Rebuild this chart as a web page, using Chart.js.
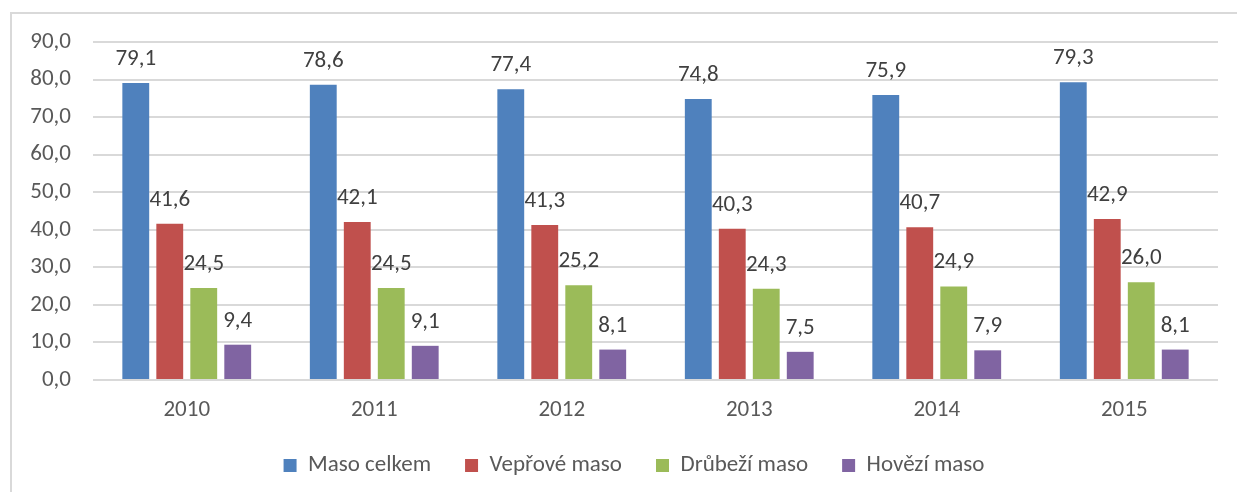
<!DOCTYPE html>
<html>
<head>
<meta charset="utf-8">
<script src="https://cdn.jsdelivr.net/npm/chart.js@4/dist/chart.umd.min.js"></script>
<style>
  html, body { margin: 0; padding: 0; background: #fff; overflow: hidden; }
  #frame { position: absolute; left: 10px; top: 12px; width: 1260px; height: 520px; border: 2px solid #d9d9d9; }
  #wrap { position: absolute; left: 0; top: 0; width: 1237px; height: 492px; }
</style>
</head>
<body>
<div id="frame"></div>
<div id="wrap"><canvas id="meatChart" width="1237" height="492"></canvas></div>
<script>
'use strict';

// categories and series
let years = ['2010', '2011', '2012', '2013', '2014', '2015'];
let seriesNames = ['Maso celkem', 'Vepřové maso', 'Drůbeží maso', 'Hovězí maso'];
let masoCelkem = [79.1, 78.6, 77.4, 74.8, 75.9, 79.3];
let veproveMaso = [41.6, 42.1, 41.3, 40.3, 40.7, 42.9];
let drubeziMaso = [24.5, 24.5, 25.2, 24.3, 24.9, 26.0];
let hoveziMaso = [9.4, 9.1, 8.1, 7.5, 7.9, 8.1];
let seriesColors = ['#4f81bd', '#c0504d', '#9bbb59', '#8064a2'];

// y axis ticks
let yMin = 0;
let yMax = 90;
let yStep = 10;

let fontFamily = 'Carlito, Calibri, Lato, sans-serif';
let fontSize = 23;

function czNumber(v) {
    return v.toFixed(1).replace('.', ',');
}

// draws the value above every bar
let barValueLabels = {
    id: 'barValueLabels',
    afterDatasetsDraw(chart) {
        let ctx = chart.ctx;
        ctx.save();
        ctx.font = fontSize + 'px ' + fontFamily;
        ctx.fillStyle = '#404040';
        ctx.textAlign = 'center';
        ctx.textBaseline = 'alphabetic';
        chart.data.datasets.forEach(function (ds, i) {
            let meta = chart.getDatasetMeta(i);
            meta.data.forEach(function (bar, j) {
                ctx.fillText(czNumber(ds.data[j]), bar.x, bar.y - 18);
            });
        });
        ctx.restore();
    }
};

// legend sits a little right of the canvas centre in the original
let legendShift = {
    id: 'legendShift',
    afterLayout(chart) {
        chart.legend.left += 15;
        chart.legend.right += 15;
    }
};

let allSeries = [masoCelkem, veproveMaso, drubeziMaso, hoveziMaso];
let datasets = [];
for (let i = 0; i < allSeries.length; i++) {
    datasets.push({
        label: seriesNames[i],
        data: allSeries[i],
        backgroundColor: seriesColors[i],
        borderWidth: 0,
        categoryPercentage: 0.725,
        barPercentage: 0.79
    });
}

let ctx = document.getElementById('meatChart').getContext('2d');
new Chart(ctx, {
    type: 'bar',
    data: {
        labels: years,
        datasets: datasets
    },
    plugins: [barValueLabels, legendShift],
    options: {
        responsive: false,
        animation: false,
        layout: {
            padding: { left: 20, right: 19, top: 42, bottom: 5 }
        },
        plugins: {
            legend: {
                position: 'bottom',
                labels: {
                    boxWidth: 13,
                    boxHeight: 13,
                    padding: 34,
                    color: '#595959',
                    font: { family: fontFamily, size: fontSize }
                }
            },
            tooltip: { enabled: false }
        },
        scales: {
            x: {
                grid: { display: false },
                border: { display: false },
                ticks: {
                    color: '#595959',
                    padding: 8,
                    font: { family: fontFamily, size: fontSize }
                },
                afterFit: function (scale) { scale.height = 40; }
            },
            y: {
                min: yMin,
                max: yMax,
                grid: { color: '#d9d9d9', lineWidth: 2, drawTicks: false },
                border: { display: false },
                ticks: {
                    stepSize: yStep,
                    color: '#595959',
                    padding: 22,
                    font: { family: fontFamily, size: fontSize },
                    callback: function (v) { return czNumber(v); }
                },
                afterFit: function (scale) { scale.width = 73; }
            }
        }
    }
});
</script>
</body>
</html>
